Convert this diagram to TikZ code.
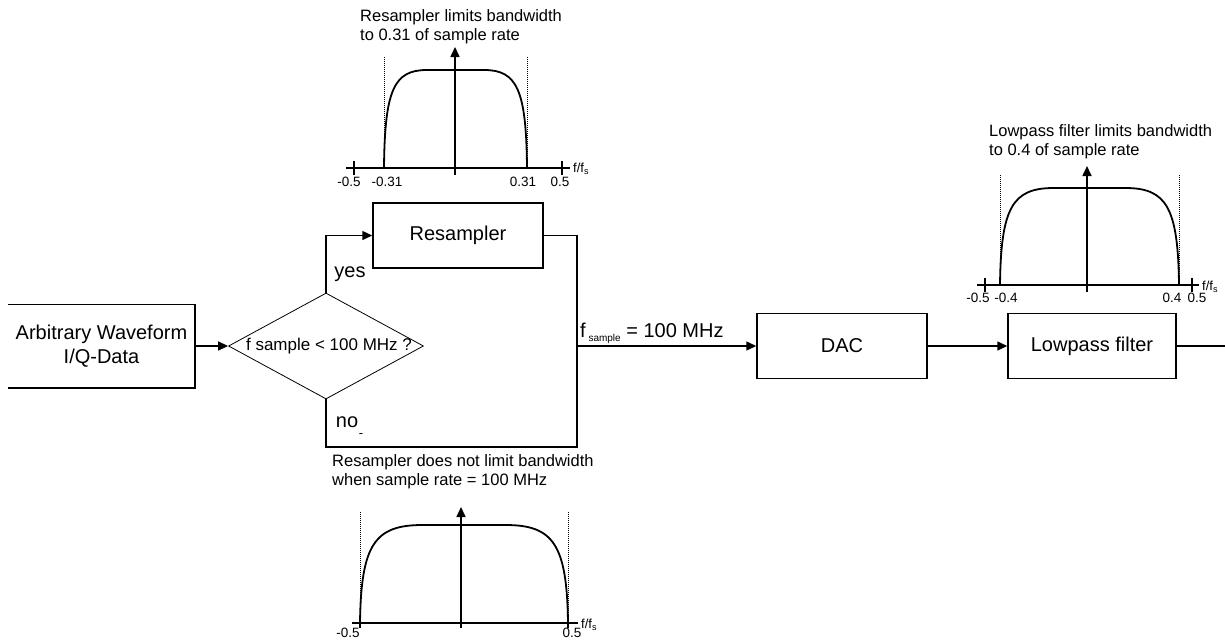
\documentclass[tikz,border=0pt]{standalone}
\usepackage{fontspec}
\setmainfont{Liberation Sans}
\usetikzlibrary{arrows.meta, shapes.geometric}

% passband curve: left, right, axis y, top y
\newcommand{\passband}[4]{%
  \draw[curve] (#1,#3) .. controls ({#1+0.005*(#2-#1)},{#4+0.2*(#3-#4)}) and ({#1+0.07*(#2-#1)},#4) .. ({#1+0.3*(#2-#1)},#4)
    -- ({#2-0.3*(#2-#1)},#4) .. controls ({#2-0.07*(#2-#1)},#4) and ({#2-0.005*(#2-#1)},{#4+0.2*(#3-#4)}) .. (#2,#3);}

\begin{document}
\begin{tikzpicture}[x=1pt, y=-1pt,
    block/.style={draw, line width=1.5pt, minimum width=170pt, minimum height=65pt, inner sep=0pt, font=\fontsize{20}{24}\selectfont},
    flow/.style={line width=1.5pt},
    tip/.style={-{Triangle[length=10pt,width=9pt]}},
    axis/.style={line width=1.6pt},
    curve/.style={line width=1.8pt},
    guide/.style={line width=1pt, densely dotted},
    caption/.style={anchor=north west, inner sep=0pt, align=left, font=\fontsize{16.5}{19}\selectfont},
    ticklab/.style={inner sep=0pt, font=\fontsize{13.5}{14}\selectfont},
    unit/.style={anchor=west, inner sep=0pt, font=\fontsize{13}{14}\selectfont},
    word/.style={inner sep=0pt, font=\fontsize{20}{24}\selectfont}]
  \useasboundingbox (0,0) rectangle (1225,640);

  % flow chart
  \node[block, draw=none, minimum width=185pt, minimum height=82pt, align=center] (input) at (101.5,346) {Arbitrary Waveform\\I/Q-Data};
  \draw[flow] (input.north west) -- (input.north east) -- (input.south east) -- (input.south west);
  \node[draw, diamond, line width=0.8pt, minimum width=195pt, minimum height=106pt, inner sep=0pt,
        label={[font=\fontsize{17}{20}\selectfont, xshift=3pt]center:f sample < 100 MHz ?}] (check) at (326,346) {};
  \node[block] (resamp) at (458,235.5) {Resampler};
  \node[block] (dac) at (842,346) {DAC};
  \node[block, minimum width=168pt] (lowpass) at (1092,346) {Lowpass filter};

  \draw[flow, tip] (input.east) -- (check.west);
  \draw[flow, tip] (check.north) |- (resamp.west);
  \coordinate (merge) at (577,447);
  \draw[flow] (resamp.east) -| (merge) -| (check.south);
  \coordinate (tap) at (577,346);
  \draw[flow, tip] (tap) -- (dac.west);
  \draw[flow, tip] (dac) -- (lowpass);
  \coordinate (out) at (1225,346);
  \draw[flow] (lowpass.east) -- (out);

  \node[word] (yes) at (350,274) {yes};
  \node[word] (no) at (347,422) {no};
  \node[inner sep=0pt, font=\fontsize{13}{13}\selectfont] (dash) at (361,436) {-};
  \node[word, anchor=base west] (rate) at (580,337) {f\raisebox{-4pt}{\fontsize{10}{10}\selectfont\ sample} = 100 MHz};

  % resampler passband
  \node[caption] (capA) at (360,9) {Resampler limits bandwidth\\to 0.31 of sample rate};
  \draw[axis] (346,168) -- (570,168);
  \foreach \t in {354,562} \draw[axis] (\t,161) -- (\t,175);
  \draw[axis, tip] (455,175) -- (455,47);
  \foreach \t in {384,527} \draw[guide] (\t,57) -- (\t,168);
  \passband{384}{527}{168}{70}
  \foreach \x/\v [count=\i] in {349/-0.5, 387/-0.31, 523/0.31, 560/0.5}
    \node[ticklab] (a\i) at (\x,182) {\v};
  \node[unit] (ua) at (573,169) {f/f\textsubscript{s}};

  % lowpass passband
  \node[caption] (capB) at (989,124) {Lowpass filter limits bandwidth\\to 0.4 of sample rate};
  \draw[axis] (977,285) -- (1199,285);
  \foreach \t in {985,1192} \draw[axis] (\t,278) -- (\t,292);
  \draw[axis, tip] (1087,292) -- (1087,166);
  \foreach \t in {1000,1179} \draw[guide] (\t,175) -- (\t,285);
  \passband{1000}{1179}{285}{188}
  \foreach \x/\v [count=\i] in {978/-0.5, 1006/-0.4, 1172/0.4, 1197/0.5}
    \node[ticklab] (b\i) at (\x,298) {\v};
  \node[unit] (ub) at (1202,287) {f/f\textsubscript{s}};

  % passband without resampling
  \node[caption] (capC) at (332,454) {Resampler does not limit bandwidth\\when sample rate = 100 MHz};
  \draw[axis] (352,623) -- (578,623);
  \foreach \t in {360,568} \draw[axis] (\t,616) -- (\t,628);
  \draw[axis, tip] (461,628) -- (461,507);
  \foreach \t in {360,568} \draw[guide] (\t,512) -- (\t,623);
  \passband{360}{568}{623}{525}
  \foreach \x/\v [count=\i] in {348/-0.5, 572/0.5}
    \node[ticklab] (c\i) at (\x,632.5) {\v};
  \node[unit] (uc) at (581,625) {f/f\textsubscript{s}};
\end{tikzpicture}
\end{document}
